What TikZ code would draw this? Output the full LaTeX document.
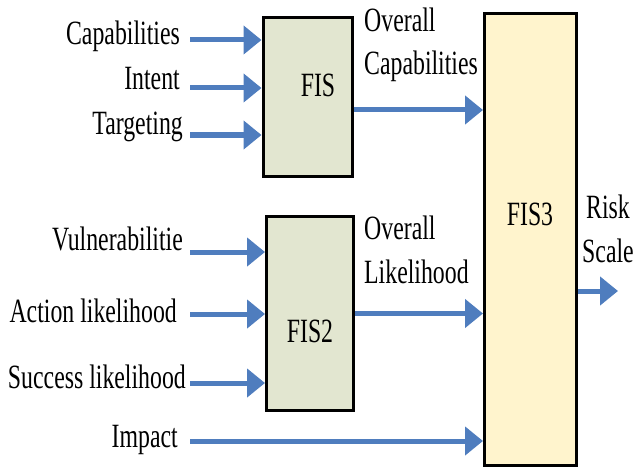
\documentclass[tikz,border=0pt]{standalone}
\usepackage{fontspec}
\setmainfont{Liberation Serif}[FakeStretch=0.7]
\usetikzlibrary{arrows.meta}
\definecolor{arrblue}{RGB}{79,125,190}
\definecolor{fisgreen}{RGB}{226,230,208}
\definecolor{fisyellow}{RGB}{255,244,205}
\begin{document}
\begin{tikzpicture}[x=1pt,y=-1pt,
  lbl/.style={font=\fontsize{34}{40}\selectfont, inner sep=0pt},
  fisbox/.style={draw=black, line width=3pt, inner sep=0pt},
  arr/.style={draw=arrblue, line width=5pt, -{Triangle[length=18pt,width=28pt]}}]
\useasboundingbox (0,0) rectangle (634,468);
% boxes
\node[fisbox, fill=fisgreen, minimum width=89pt, minimum height=158pt] (fis) at (307.5,97) {};
\node[fisbox, fill=fisgreen, minimum width=87pt, minimum height=194pt] (fis2) at (310,313.5) {};
\node[fisbox, fill=fisyellow, minimum width=92pt, minimum height=452pt] (fis3) at (530.5,239.5) {};
\node[lbl, anchor=base] (fist) at (318,97) {FIS};
\node[lbl, anchor=base] (fis2t) at (310,342) {FIS2};
\node[lbl, anchor=base] (fis3t) at (530,225) {FIS3};
% input labels
\node[lbl, anchor=base east] (l1) at (180,45) {Capabilities};
\node[lbl, anchor=base east] (l2) at (180,90) {Intent};
\node[lbl, anchor=base east] (l3) at (183,135) {Targeting};
\node[lbl, anchor=base east] (l4) at (183,250) {Vulnerabilitie};
\node[lbl, anchor=base east] (l5) at (177,322) {Action likelihood};
\node[lbl, anchor=base east] (l6) at (186,388) {Success likelihood};
\node[lbl, anchor=base east] (l7) at (178,447) {Impact};
% output labels
\node[lbl, anchor=base west] (oc1) at (364,32) {Overall};
\node[lbl, anchor=base west] (oc2) at (364,75) {Capabilities};
\node[lbl, anchor=base west] (ol1) at (364,239) {Overall};
\node[lbl, anchor=base west] (ol2) at (364,283) {Likelihood};
\node[lbl, anchor=base] (rs1) at (608,218) {Risk};
\node[lbl, anchor=base] (rs2) at (608,262) {Scale};
% arrow start points
\coordinate (s1) at (190,40);
\coordinate (s2) at (190,88);
\coordinate (s3) at (190,135);
\coordinate (s4) at (190,252);
\coordinate (s5) at (190,314);
\coordinate (s6) at (190,383);
\coordinate (s7) at (190,441);
\coordinate (rend) at (618,291);
% arrows
\draw[arr] (s1) -- (s1 -| fis.west);
\draw[arr] (s2) -- (s2 -| fis.west);
\draw[arr] (s3) -- (s3 -| fis.west);
\draw[arr] (s4) -- (s4 -| fis2.west);
\draw[arr] (s5) -- (s5 -| fis2.west);
\draw[arr] (s6) -- (s6 -| fis2.west);
\draw[arr] (s7) -- (s7 -| fis3.west);
\draw[arr] ([yshift=-13pt]fis.east) coordinate (oc) -- (oc -| fis3.west);
\draw[arr] (fis2.east) -- (fis2.east -| fis3.west);
\draw[arr] (rend -| fis3.east) -- (rend);
\end{tikzpicture}
\end{document}
